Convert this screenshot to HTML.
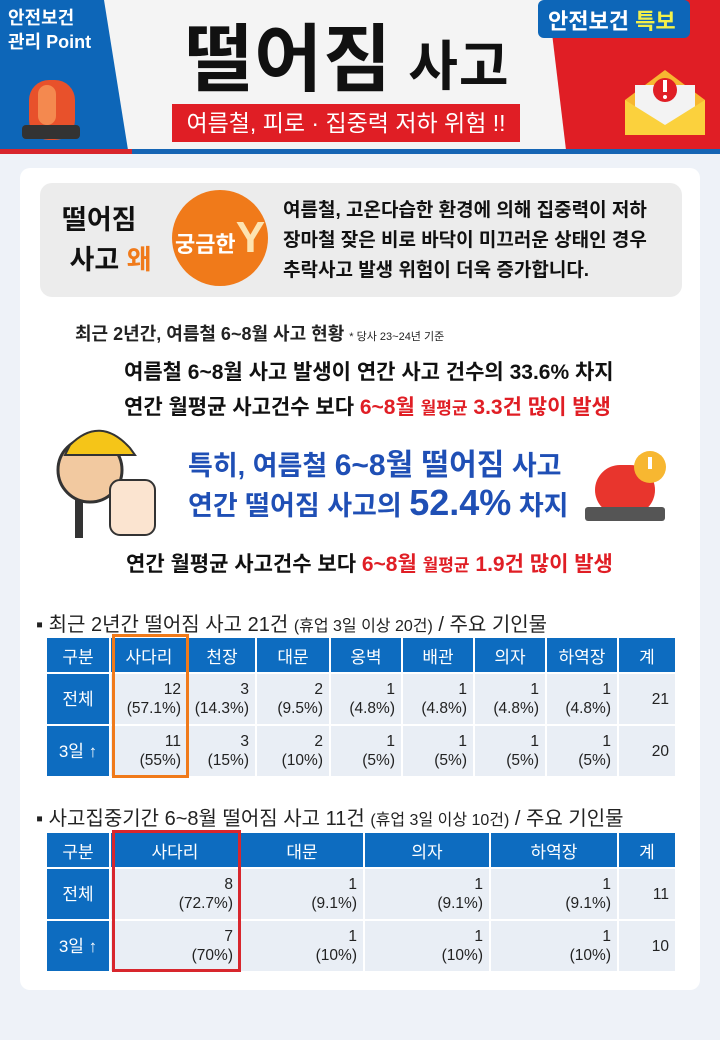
<!DOCTYPE html>
<html><head><meta charset="utf-8"><style>
*{margin:0;padding:0;box-sizing:border-box}
body{width:720px;height:1040px;position:relative;overflow:hidden;background:#eef2f8;font-family:"Liberation Sans","Noto Sans CJK KR",sans-serif;color:#222}
.a{position:absolute;white-space:nowrap}
table{border-collapse:separate;border-spacing:2px;position:absolute;left:45px;table-layout:fixed}
td{background:#e9eef5;text-align:right;padding-right:6px;font-size:15.5px;line-height:19px;color:#222;font-family:"Liberation Sans","Noto Sans CJK KR",sans-serif}
th{background:#0d6cc0;color:#fff;font-weight:normal;font-size:17px;height:34px}
td.h{background:#0d6cc0;color:#fff;text-align:center;font-size:17px;padding:0}
b{font-weight:bold}
</style></head><body>
<div class="a" style="left:0;top:0;width:720px;height:152px;background:#f4f4f4"></div>
<svg class="a" style="left:0;top:0" width="720" height="156">
<polygon points="0,0 104,0 128,150 0,150" fill="#0d66b8"/>
<polygon points="548,0 720,0 720,150 566,150" fill="#e01e25"/>
<rect x="0" y="149" width="132" height="5" fill="#d8262d"/>
<rect x="132" y="149" width="588" height="5" fill="#1565b5"/>
<rect x="29" y="80" width="46" height="60" rx="20" fill="#e8512b"/>
<rect x="38" y="85" width="18" height="40" rx="9" fill="#f4894f"/>
<rect x="22" y="125" width="58" height="14" rx="4" fill="#333"/>
<rect x="538" y="0" width="152" height="38" rx="6" fill="#0d66b8"/>
<polygon points="625,100 665,70 705,100 705,135 625,135" fill="#f7b731"/>
<rect x="635" y="85" width="60" height="40" fill="#f3f3f3"/>
<circle cx="665" cy="90" r="12" fill="#e01e25"/>
<rect x="663" y="80" width="4" height="12" fill="#fff"/><circle cx="665" cy="97" r="2" fill="#fff"/>
<polygon points="625,100 665,125 705,100 705,135 625,135" fill="#fbd13d"/>
</svg>
<div class="a" style="left:8px;top:6px;color:#fff;font-size:18px;font-weight:bold;line-height:24px">안전보건<br>관리 Point</div>
<div class="a" style="left:548px;top:4px;color:#fff;font-size:22px;font-weight:bold">안전보건 <span style="color:#f3f04a">특보</span></div>
<div class="a" style="left:185px;top:18px;font-size:74px;font-weight:bold;color:#111;letter-spacing:1px;line-height:84px">떨어짐<span style="font-size:54px"> 사고</span></div>
<div class="a" style="left:172px;top:104px;width:348px;height:38px;background:#e01e25;color:#fff;font-size:23px;text-align:center;line-height:38px">여름철, 피로 · 집중력 저하 위험 !!</div>
<div class="a" style="left:20px;top:168px;width:680px;height:822px;background:#fff;border-radius:10px"></div>
<div class="a" style="left:40px;top:183px;width:642px;height:114px;background:#ececec;border-radius:12px"></div>
<div class="a" style="left:62px;top:200px;font-size:27px;font-weight:bold;line-height:40px;color:#111">떨어짐<br>&nbsp;사고 <span style="color:#f07a1a">왜</span></div>
<div class="a" style="left:172px;top:190px;width:96px;height:96px;border-radius:50%;background:#f07a1a;color:#fff;font-weight:bold;font-size:22px;line-height:96px;text-align:center">궁금한<span style="font-size:44px;color:#fde3b0">Y</span></div>
<div class="a" style="left:283px;top:196px;font-size:19px;font-weight:bold;line-height:30px;color:#111">여름철, 고온다습한 환경에 의해 집중력이 저하<br>장마철 잦은 비로 바닥이 미끄러운 상태인 경우<br>추락사고 발생 위험이 더욱 증가합니다.</div>
<div class="a" style="left:75px;top:320px;font-size:18px;font-weight:bold;color:#222">최근 2년간, 여름철 6~8월 사고 현황 <span style="font-size:11px;font-weight:normal">* 당사 23~24년 기준</span></div>
<div class="a" style="left:124px;top:356px;font-size:21px;font-weight:bold;color:#111">여름철 6~8월 사고 발생이 연간 사고 건수의 33.6% 차지</div>
<div class="a" style="left:124px;top:391px;font-size:21px;font-weight:bold;color:#111">연간 월평균 사고건수 보다 <span style="color:#e01e25">6~8월 <span style="font-size:17px">월평균</span> 3.3건 많이 발생</span></div>
<div class="a" style="left:188px;top:440px;font-size:27px;font-weight:bold;color:#1f4fb5">특히, 여름철 <span style="font-size:30px">6~8월 떨어짐</span> 사고</div>
<div class="a" style="left:188px;top:482px;font-size:27px;font-weight:bold;color:#1f4fb5">연간 떨어짐 사고의 <span style="font-size:36px">52.4%</span> 차지</div>
<svg class="a" style="left:45px;top:420px" width="120" height="120"><circle cx="45" cy="50" r="32" fill="#f2c9a0" stroke="#333" stroke-width="3"/><path d="M25 25 Q55 -5 85 28 L90 35 L20 35Z" fill="#f5c518" stroke="#333" stroke-width="2"/><rect x="30" y="80" width="8" height="38" fill="#333"/><rect x="65" y="60" width="45" height="55" rx="10" fill="#fbe4d0" stroke="#333" stroke-width="2"/></svg>
<svg class="a" style="left:580px;top:445px" width="100" height="80"><rect x="15" y="20" width="60" height="50" rx="25" fill="#e8352d"/><rect x="5" y="62" width="80" height="14" rx="3" fill="#555"/><circle cx="70" cy="22" r="16" fill="#f7b731"/><rect x="68" y="12" width="4" height="12" fill="#fff"/></svg>
<div class="a" style="left:126px;top:548px;font-size:21px;font-weight:bold;color:#111">연간 월평균 사고건수 보다 <span style="color:#e01e25">6~8월 <span style="font-size:17px">월평균</span> 1.9건 많이 발생</span></div>
<div class="a" style="left:36px;top:608px;font-size:20px;color:#222">▪ 최근 2년간 떨어짐 사고 21건 <span style="font-size:16px">(휴업 3일 이상 20건)</span> / 주요 기인물</div>
<table style="top:636px;width:632px">
<colgroup><col style="width:62px"><col style="width:76px"><col style="width:66px"><col style="width:72px"><col style="width:70px"><col style="width:70px"><col style="width:70px"><col style="width:70px"><col style="width:56px"></colgroup>
<tr><th>구분</th><th>사다리</th><th>천장</th><th>대문</th><th>옹벽</th><th>배관</th><th>의자</th><th>하역장</th><th>계</th></tr>
<tr style="height:50px"><td class="h">전체</td><td>12<br>(57.1%)</td><td>3<br>(14.3%)</td><td>2<br>(9.5%)</td><td>1<br>(4.8%)</td><td>1<br>(4.8%)</td><td>1<br>(4.8%)</td><td>1<br>(4.8%)</td><td>21</td></tr>
<tr style="height:50px"><td class="h">3일 ↑</td><td>11<br>(55%)</td><td>3<br>(15%)</td><td>2<br>(10%)</td><td>1<br>(5%)</td><td>1<br>(5%)</td><td>1<br>(5%)</td><td>1<br>(5%)</td><td>20</td></tr>
</table>
<div class="a" style="left:112px;top:634px;width:77px;height:144px;border:3px solid #f07a1a"></div>
<div class="a" style="left:36px;top:802px;font-size:20px;color:#222">▪ 사고집중기간 6~8월 떨어짐 사고 11건 <span style="font-size:16px">(휴업 3일 이상 10건)</span> / 주요 기인물</div>
<table style="top:831px;width:632px">
<colgroup><col style="width:62px"><col style="width:128px"><col style="width:122px"><col style="width:124px"><col style="width:126px"><col style="width:56px"></colgroup>
<tr><th>구분</th><th>사다리</th><th>대문</th><th>의자</th><th>하역장</th><th>계</th></tr>
<tr style="height:50px"><td class="h">전체</td><td>8<br>(72.7%)</td><td>1<br>(9.1%)</td><td>1<br>(9.1%)</td><td>1<br>(9.1%)</td><td>11</td></tr>
<tr style="height:50px"><td class="h">3일 ↑</td><td>7<br>(70%)</td><td>1<br>(10%)</td><td>1<br>(10%)</td><td>1<br>(10%)</td><td>10</td></tr>
</table>
<div class="a" style="left:112px;top:830px;width:129px;height:142px;border:3px solid #d8262d"></div>
</body></html>
